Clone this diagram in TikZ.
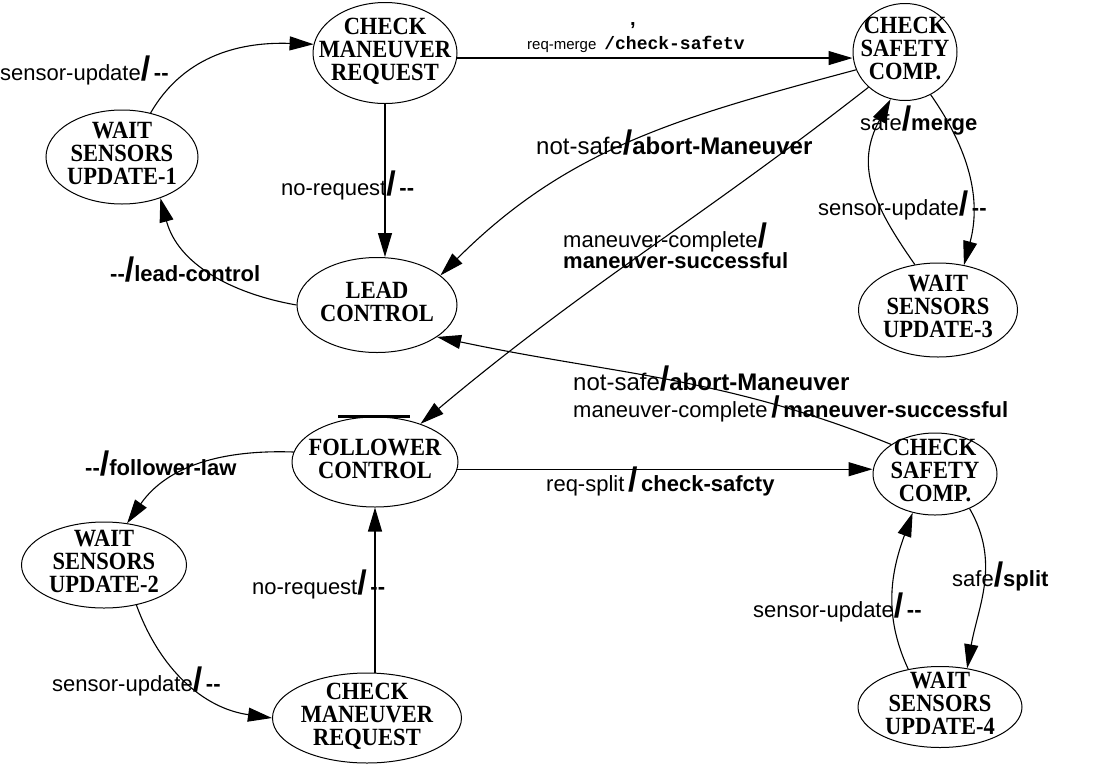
\documentclass[tikz,border=0pt]{standalone}
\usepackage{fontspec}
\usepackage{graphicx}
\setmainfont{Liberation Serif}
\setsansfont{Liberation Sans}
\setmonofont{Liberation Mono}
\usetikzlibrary{arrows.meta,shapes.geometric}

% heavy slash separating event and action
\newcommand{\actsl}{{\fontsize{34}{34}\selectfont\bfseries/}}
\newcommand{\smsl}{{\fontsize{30}{30}\selectfont\bfseries/}}
\newcommand{\nop}{\textbf{-{}-}}
% state names: stacked, slightly tall lettering
\newcommand{\stname}[1]{\scalebox{1}[1.1]{\begin{tabular}{@{}c@{}}#1\end{tabular}}}

\tikzset{
  % the ellipse keeps its own size; the name sits in its centre
  state/.style={draw, ellipse, line width=1pt, inner sep=0pt,
    label={[font=\fontsize{22.5}{20}\selectfont\bfseries, inner sep=0pt]center:{\stname{#1}}}},
  trans/.style={line width=1.1pt, -{Triangle[length=24pt,width=14pt]}},
  lbl/.style={font=\sffamily\fontsize{22}{22}\selectfont, inner sep=0pt, anchor=west},
  biglbl/.style={lbl, font=\sffamily\fontsize{24}{24}\selectfont},
}

\begin{document}
\begin{tikzpicture}[x=1pt,y=1pt]
\useasboundingbox (0,0) rectangle (1117,-764);

% ---- lead side ----
\node[state={CHECK\\MANEUVER\\REQUEST}, minimum width=144pt, minimum height=101pt] (c1) at (385,-53) {};
\node[state={CHECK\\SAFETY\\COMP.}, minimum width=104pt, minimum height=97pt] (s1) at (905,-52) {};
\node[state={WAIT\\SENSORS\\UPDATE-1}, minimum width=152pt, minimum height=94pt] (w1) at (122,-157) {};
\node[state={LEAD\\CONTROL}, minimum width=160pt, minimum height=95pt] (lead) at (377,-305) {};
\node[state={WAIT\\SENSORS\\UPDATE-3}, minimum width=159pt, minimum height=94pt] (w3) at (938,-310) {};

% ---- follower side ----
\node[state={FOLLOWER\\CONTROL}, minimum width=166pt, minimum height=90pt] (f) at (375,-462) {};
\node[state={CHECK\\SAFETY\\COMP.}, minimum width=124pt, minimum height=82pt] (s2) at (935,-474) {};
\node[state={WAIT\\SENSORS\\UPDATE-2}, minimum width=165pt, minimum height=86pt] (w2) at (104,-565) {};
\node[state={CHECK\\MANEUVER\\REQUEST}, minimum width=189pt, minimum height=90pt] (c2) at (367,-718) {};
\node[state={WAIT\\SENSORS\\UPDATE-4}, minimum width=164pt, minimum height=81pt] (w4) at (940,-707) {};

% bar over the follower state
\draw[line width=2.5pt] ([xshift=-37pt]f.north) -- ([xshift=35pt]f.north);

% ---- transitions, lead side ----
\draw[trans] (w1.57) to[out=60,in=178] (c1.173);
\draw[trans] (c1.-4) -- (c1.-4 -| s1.west);
\draw[trans] (c1.south) -- (c1.south |- lead.north);
\draw[trans] (lead.west) to[out=170,in=-75] (w1.-47);
\draw[trans] (s1.200) to[out=195,in=45] (lead.25);
\draw[trans] (s1.224) to[out=218,in=40] (f.40);
\draw[trans] (s1.-59) to[out=-55,in=75] (w3.60);
\draw[trans] (w3.117) to[out=125,in=-118,looseness=1.15] (s1.253);

% ---- transitions, follower side ----
\draw[trans] (s2.146) to[out=158,in=-12] (lead.-28);
\draw[trans] (f.-5) -- (f.-5 -| s2.west);
\draw[trans] (f.173) to[out=178,in=55] (w2.61);
\draw[trans] (w2.-51) to[out=-70,in=172] (c2.west);
\draw[trans] (f.south |- c2.north) -- (f.south);
\draw[trans] (s2.-45) to[out=-60,in=80] (w4.55);
\draw[trans] (w4.130) to[out=115,in=-110] (s2.240);

% ---- labels ----
\node[lbl] (l1) at (0,-70) {sensor-update\actsl\,\nop};
\node[lbl] (l2) at (527,-44) {{\fontsize{15}{15}\selectfont req-merge}\hspace{8pt}{\ttfamily\bfseries\fontsize{18}{18}\selectfont /check-safetv}};
\node[lbl, font=\sffamily\bfseries\fontsize{20}{20}\selectfont] (l2b) at (630,-26) {,};
\node[lbl] (l3) at (281,-185) {no-request\actsl\,\nop};
\node[lbl] (l4) at (110,-270) {\nop\actsl\textbf{lead-control}};
\node[biglbl] (l5) at (536,-143) {not-safe\actsl\textbf{abort-Maneuver}};
\node[lbl, align=left, font=\sffamily\fontsize{22}{18}\selectfont] (l6) at (563,-246) {maneuver-complete\actsl\\\textbf{maneuver-successful}};
\node[lbl] (l7) at (860,-121) {safe\actsl\textbf{merge}};
\node[lbl] (l8) at (818,-205) {sensor-update\actsl\,\nop};
\node[biglbl] (l9) at (573,-379) {not-safe\actsl\textbf{abort-Maneuver}};
\node[lbl] (l10) at (573,-409) {maneuver-complete\,\smsl\,\textbf{maneuver-successful}};
\node[lbl] (l11) at (85,-464) {\nop\actsl\textbf{follower-law}};
\node[lbl] (l12) at (546,-481) {req-split\,\actsl\,\textbf{check-safcty}};
\node[lbl] (l13) at (252,-584) {no-request\actsl\,\nop};
\node[lbl] (l14) at (952,-576) {safe\actsl\textbf{split}};
\node[lbl] (l15) at (753,-607) {sensor-update\actsl\,\nop};
\node[lbl] (l16) at (52,-681) {sensor-update\actsl\,\nop};
\end{tikzpicture}
\end{document}
